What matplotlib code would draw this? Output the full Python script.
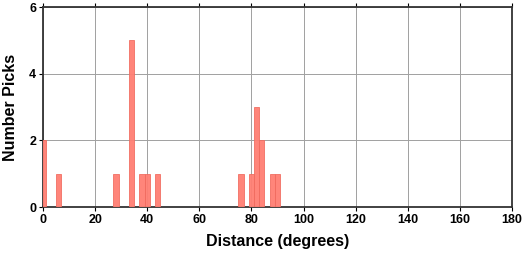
import matplotlib
matplotlib.use("Agg")
import matplotlib.pyplot as plt

# histogram of pick distances, 2 degree bins centred on even degrees
bin_centers = [0, 6, 28, 34, 38, 40, 44, 76, 80, 82, 84, 88, 90]
counts = [2, 1, 1, 5, 1, 1, 1, 1, 1, 3, 2, 1, 1]
bin_width = 2
x_ticks = list(range(0, 181, 20))
y_ticks = [0, 2, 4, 6]

plt.rcParams['font.family'] = ['Liberation Sans', 'DejaVu Sans']
plt.rcParams['font.weight'] = 'bold'

fig = plt.figure(figsize=(5.23, 2.58), dpi=100)
ax = fig.add_axes([43 / 523, 51 / 258, 469 / 523, 200 / 258])

ax.bar(bin_centers, counts, width=bin_width, color='#ff7f73', alpha=0.95,
       edgecolor='#f06a5e', linewidth=0.6, zorder=3)

ax.set_xlim(0, 180)
ax.set_ylim(0, 6)
ax.set_xticks(x_ticks)
ax.set_yticks(y_ticks)
ax.grid(True, color='#a0a0a0', linewidth=0.7, zorder=0)
ax.tick_params(direction='out', length=3, width=0.8, labelsize=9, pad=2)
ax.tick_params(axis='x', top=True)
for lab in ax.get_xticklabels() + ax.get_yticklabels():
    lab.set_fontweight('bold')

for side in ['left', 'bottom', 'top', 'right']:
    ax.spines[side].set_linewidth(1.3)
    ax.spines[side].set_color('#333333')

ax.set_xlabel("Distance (degrees)", fontsize=11.5, fontweight='bold', labelpad=6)
ax.set_ylabel("Number Picks", fontsize=11.5, fontweight='bold', labelpad=8)

fig.savefig("out.png", dpi=100)
